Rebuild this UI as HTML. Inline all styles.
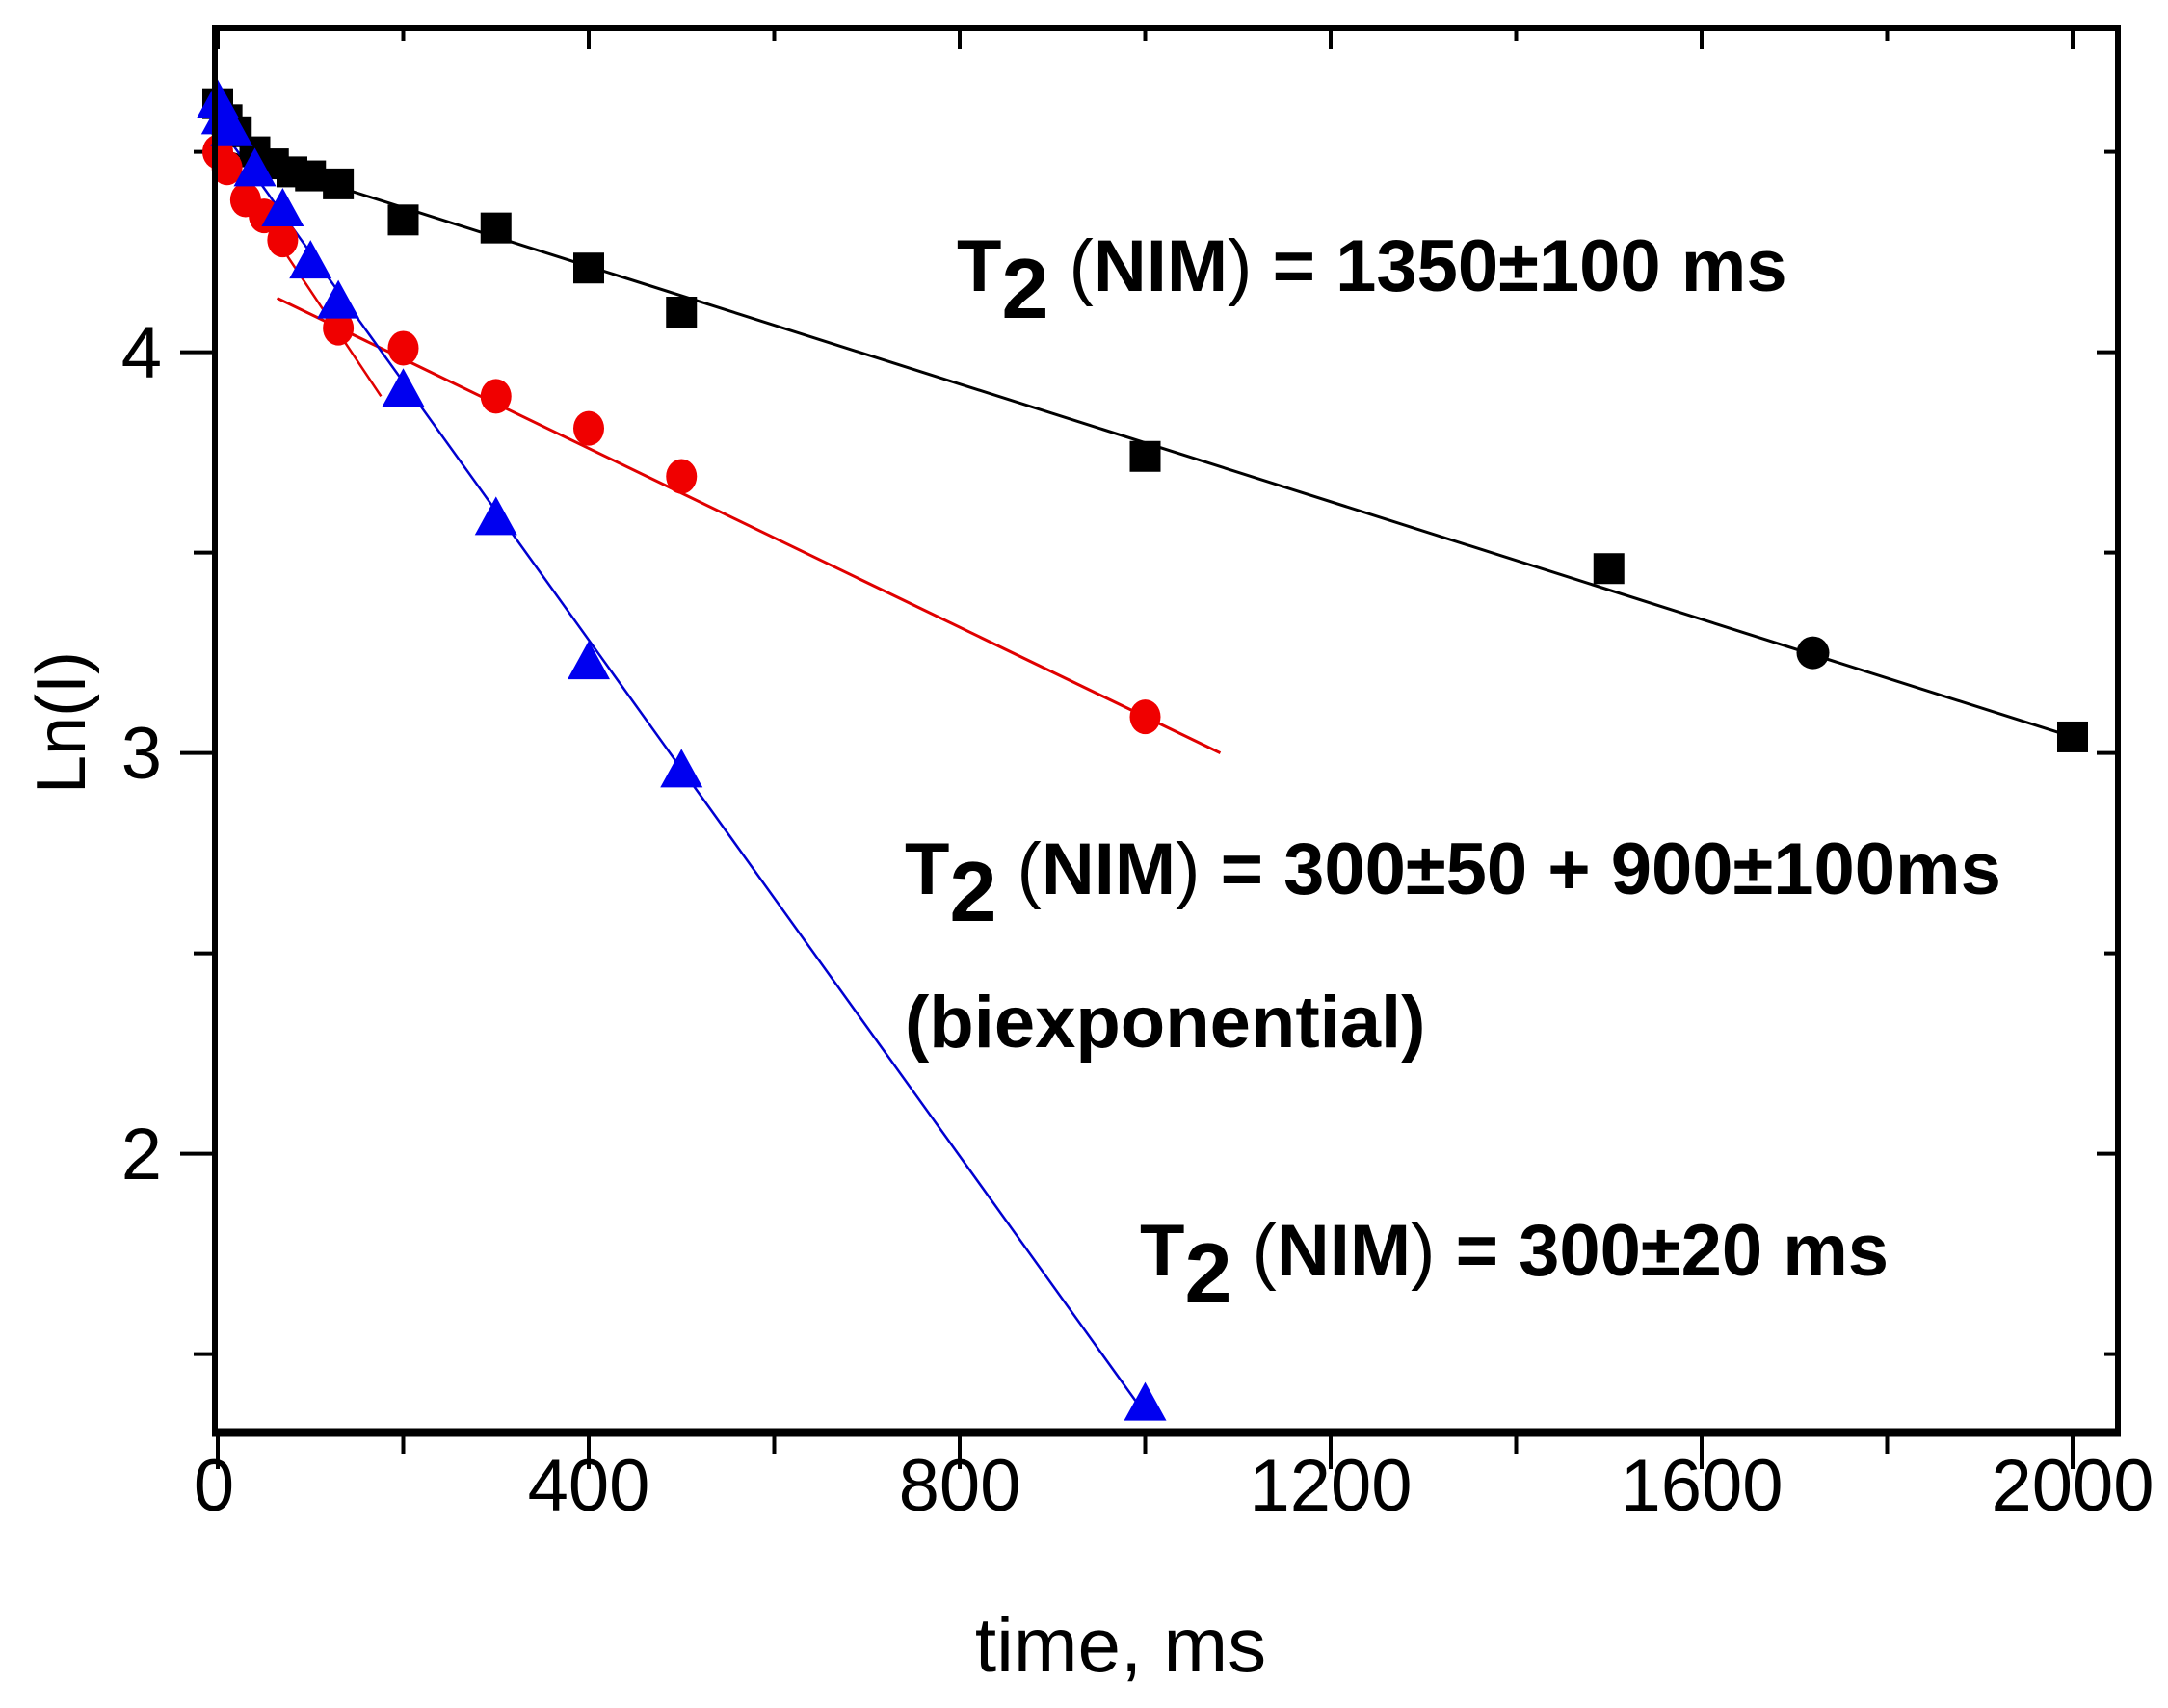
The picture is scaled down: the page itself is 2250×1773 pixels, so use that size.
<!DOCTYPE html>
<html><head><meta charset="utf-8"><style>
html,body{margin:0;padding:0;background:#fff;}
svg{display:block;font-family:"Liberation Sans",Arial,sans-serif;}
</style></head><body>
<svg id="s" width="2250" height="1773" viewBox="0 0 2250 1773" xmlns="http://www.w3.org/2000/svg">
<rect width="2250" height="1773" fill="#fff"/>
<g id="g"></g>
<rect x="223" y="29" width="1975" height="1458" fill="none" stroke="#000" stroke-width="6"/>
<line x1="220" y1="1487" x2="2201" y2="1487" stroke="#000" stroke-width="9"/>
<g font-size="76" text-anchor="middle" fill="#000">
<text x="222" y="1568">0</text><text x="611" y="1568">400</text><text x="996" y="1568">800</text>
<text x="1381" y="1568">1200</text><text x="1766" y="1568">1600</text><text x="2151" y="1568">2000</text>
</g>
<g font-size="76" text-anchor="end" fill="#000">
<text x="168" y="392">4</text><text x="168" y="808">3</text><text x="168" y="1224">2</text>
</g>
<text x="1163" y="1735" font-size="80" text-anchor="middle">time, ms</text>
<text transform="translate(88,750) rotate(-90)" font-size="72" text-anchor="middle">Ln(I)</text>
<g font-weight="bold" fill="#000">
<text x="993" y="302" font-size="76"><tspan>T</tspan><tspan font-size="88" dy="28">2</tspan><tspan dy="-28" font-weight="normal"> (</tspan><tspan>NIM</tspan><tspan font-weight="normal">)</tspan><tspan> = 1350±100 ms</tspan></text>
<text x="939" y="928" font-size="76"><tspan>T</tspan><tspan font-size="88" dy="28">2</tspan><tspan dy="-28" font-weight="normal"> (</tspan><tspan>NIM</tspan><tspan font-weight="normal">)</tspan><tspan> = 300±50 + 900±100ms</tspan></text>
<text x="939" y="1087" font-size="76">(biexponential)</text>
<text x="1183" y="1324" font-size="76"><tspan>T</tspan><tspan font-size="88" dy="28">2</tspan><tspan dy="-28" font-weight="normal"> (</tspan><tspan>NIM</tspan><tspan font-weight="normal">)</tspan><tspan> = 300±20 ms</tspan></text>
</g>
</svg>
<script>
var X=function(t){return 226+t*0.9625}, Y=function(v){return 365.6+(4-v)*416};
var g=document.getElementById('g'),h='';
for(var t=0;t<=2000;t+=200){var maj=(t%400==0);var x=X(t);
 h+='<line x1="'+x+'" y1="1487" x2="'+x+'" y2="'+(1487+(maj?38:22))+'" stroke="#000" stroke-width="4"/>';
 h+='<line x1="'+x+'" y1="29" x2="'+x+'" y2="'+(29+(maj?22:14))+'" stroke="#000" stroke-width="4"/>';}
for(var v=1.5;v<=4.5;v+=0.5){var y=Y(v);var maj=(v%1==0);
 h+='<line x1="'+(223-(maj?36:22))+'" y1="'+y+'" x2="223" y2="'+y+'" stroke="#000" stroke-width="4"/>';
 h+='<line x1="2198" y1="'+y+'" x2="'+(2198-(maj?22:14))+'" y2="'+y+'" stroke="#000" stroke-width="4"/>';}
function L(a,b,c,d,col,w){h+='<line x1="'+X(a)+'" y1="'+Y(b)+'" x2="'+X(c)+'" y2="'+Y(d)+'" stroke="'+col+'" stroke-width="'+w+'"/>';}
L(-10,4.515,2000,3.04,'#000',3);
L(64,4.135,1081,3.0,'#e00000',3);
L(0,4.50,176,3.89,'#e00000',2.5);
L(0,4.57,1000,1.35,'#0000d0',2.5);
var sq=[[0,4.62],[10,4.58],[20,4.55],[40,4.50],[60,4.47],[80,4.45],[100,4.44],[130,4.42],[200,4.33],[300,4.31],[400,4.21],[500,4.10],[1000,3.74],[1500,3.46],[2000,3.04]];
sq.forEach(function(p){h+='<rect x="'+(X(p[0])-16)+'" y="'+(Y(p[1])-16)+'" width="32" height="32" fill="#000"/>';});
h+='<circle cx="'+X(1720)+'" cy="'+Y(3.25)+'" r="17" fill="#000"/>';
var rc=[[0,4.50],[10,4.46],[30,4.38],[50,4.34],[70,4.28],[130,4.06],[200,4.01],[300,3.89],[400,3.81],[500,3.69],[1000,3.09]];
rc.forEach(function(p){h+='<ellipse cx="'+X(p[0])+'" cy="'+Y(p[1])+'" rx="16" ry="18" fill="#f00000"/>';});
var bt=[[0,4.62],[5,4.58],[15,4.55],[40,4.45],[70,4.35],[100,4.22],[130,4.12],[200,3.90],[300,3.58],[400,3.22],[500,2.95],[1000,1.37]];
bt.forEach(function(p){var x=X(p[0]),y=Y(p[1]);h+='<polygon points="'+x+','+(y-25)+' '+(x+22)+','+(y+15)+' '+(x-22)+','+(y+15)+'" fill="#0000f0"/>';});
g.innerHTML=h;
</script>
</body></html>
